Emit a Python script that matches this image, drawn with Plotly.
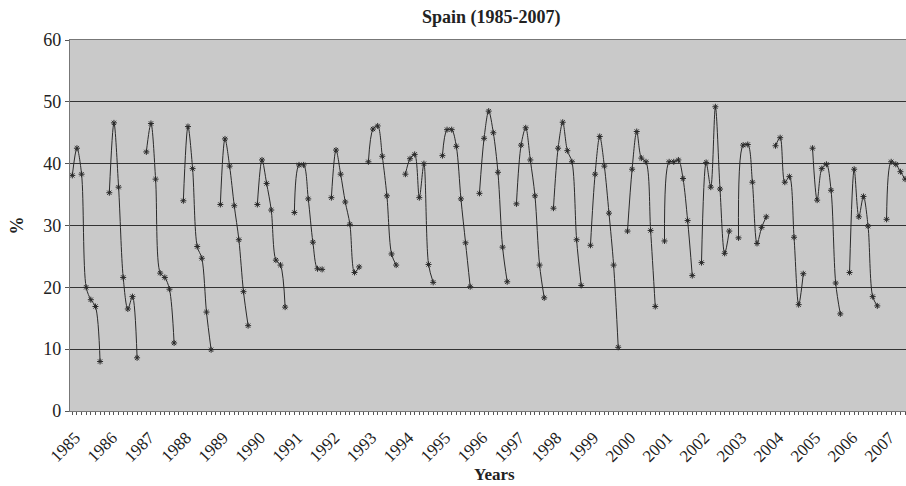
import plotly.graph_objects as go

# ---- data ----
years = list(range(1985, 2008))
slots_per_year = 8  # 7 observations + 1 blank slot separating seasons

v1985 = [38.1, 42.5, 38.3, 20.0, 18.0, 16.9, 8.0]
v1986 = [35.3, 46.6, 36.2, 21.6, 16.5, 18.5, 8.6]
v1987 = [41.9, 46.5, 37.5, 22.3, 21.6, 19.7, 11.0]
v1988 = [34.0, 46.0, 39.2, 26.6, 24.7, 16.0, 9.9]
v1989 = [33.4, 44.0, 39.6, 33.2, 27.7, 19.3, 13.8]
v1990 = [33.4, 40.6, 36.8, 32.5, 24.4, 23.6, 16.8]
v1991 = [32.1, 39.8, 39.8, 34.3, 27.3, 23.0, 22.9]
v1992 = [34.5, 42.2, 38.3, 33.8, 30.2, 22.4, 23.3]
v1993 = [40.3, 45.6, 46.1, 41.2, 34.8, 25.4, 23.6]
v1994 = [38.3, 40.8, 41.5, 34.5, 40.0, 23.7, 20.8]
v1995 = [41.3, 45.5, 45.5, 42.8, 34.3, 27.2, 20.1]
v1996 = [35.2, 44.1, 48.5, 45.0, 38.6, 26.5, 20.9]
v1997 = [33.5, 43.0, 45.8, 40.6, 34.8, 23.6, 18.3]
v1998 = [32.8, 42.5, 46.7, 42.1, 40.3, 27.7, 20.3]
v1999 = [26.8, 38.3, 44.4, 39.6, 32.0, 23.6, 10.3]
v2000 = [29.1, 39.1, 45.2, 40.9, 40.3, 29.2, 16.9]
v2001 = [27.5, 40.3, 40.3, 40.6, 37.6, 30.8, 21.9]
v2002 = [24.0, 40.2, 36.2, 49.2, 35.9, 25.5, 29.1]
v2003 = [28.0, 43.0, 43.1, 37.0, 27.1, 29.7, 31.4]
v2004 = [42.9, 44.2, 37.0, 37.9, 28.1, 17.2, 22.2]
v2005 = [42.5, 34.1, 39.2, 39.9, 35.7, 20.7, 15.7]
v2006 = [22.4, 39.1, 31.4, 34.7, 29.9, 18.5, 17.0]
v2007 = [31.0, 40.3, 39.9, 38.7, 37.5]

seasons = [v1985, v1986, v1987, v1988, v1989, v1990, v1991, v1992, v1993,
           v1994, v1995, v1996, v1997, v1998, v1999, v2000, v2001, v2002,
           v2003, v2004, v2005, v2006, v2007]

year_labels = [str(y) for y in years]

# ---- build category series (blank slot between seasons) ----
xs, ys = [], []
for i, vals in enumerate(seasons):
    for j in range(slots_per_year):
        xs.append(i * slots_per_year + j)
        ys.append(vals[j] if j < len(vals) else None)

n_cat = len(years) * slots_per_year
tickvals = list(range(n_cat))
ticktext = [year_labels[k // slots_per_year] if k % slots_per_year == 0 else "" for k in tickvals]

serif = "Liberation Serif, Times New Roman, serif"

fig = go.Figure()
fig.add_trace(go.Scatter(
    x=xs, y=ys, mode="lines+markers", connectgaps=False,
    line=dict(color="#2a2a2a", width=1, shape="spline", smoothing=0.9),
    marker=dict(symbol="asterisk-open", size=5, color="#2a2a2a",
                line=dict(color="#2a2a2a", width=1)),
    showlegend=False, hoverinfo="x+y",
))

fig.update_layout(
    width=906, height=486,
    margin=dict(l=70, r=0, t=40, b=75),
    paper_bgcolor="white",
    plot_bgcolor="#c9c9c9",
    font=dict(family=serif, color="#222", size=18),
    xaxis=dict(
        range=[-0.5, 180.2], automargin=False,
        tickmode="array", tickvals=tickvals, ticktext=ticktext,
        tickangle=-45, ticks="outside", ticklen=3, tickwidth=1, tickcolor="#555",
        ticklabelstandoff=6, ticklabelshift=3,
        showgrid=False, zeroline=False,
        showline=True, linecolor="#777", linewidth=1.2, mirror=True,
        tickfont=dict(family=serif, size=17, color="#222"),
    ),
    yaxis=dict(
        range=[0, 60], tickmode="linear", tick0=0, dtick=10, automargin=False,
        ticks="outside", ticklen=4, tickcolor="#555",
        showgrid=True, gridcolor="#333", gridwidth=1.2,
        zeroline=False, showline=True, linecolor="#777", linewidth=1.2,
        tickfont=dict(family=serif, size=18, color="#222"),
    ),
    annotations=[
        dict(text="<b>Spain (1985-2007)</b>", xref="paper", yref="paper",
             x=0.504, y=1, yshift=35, showarrow=False,
             font=dict(family=serif, size=18, color="#222")),
        dict(text="<b>Years</b>", xref="paper", yref="paper",
             x=0.508, y=0, yshift=-75, showarrow=False,
             font=dict(family=serif, size=17, color="#222")),
        dict(text="<b>%</b>", xref="paper", yref="paper",
             x=0, xshift=-66, y=0.5, showarrow=False, textangle=-90,
             font=dict(family=serif, size=18, color="#222")),
    ],
)

fig.write_html("out.html", config={"displayModeBar": False},
               post_script="document.body.style.margin='0';document.body.style.overflow='hidden';")
